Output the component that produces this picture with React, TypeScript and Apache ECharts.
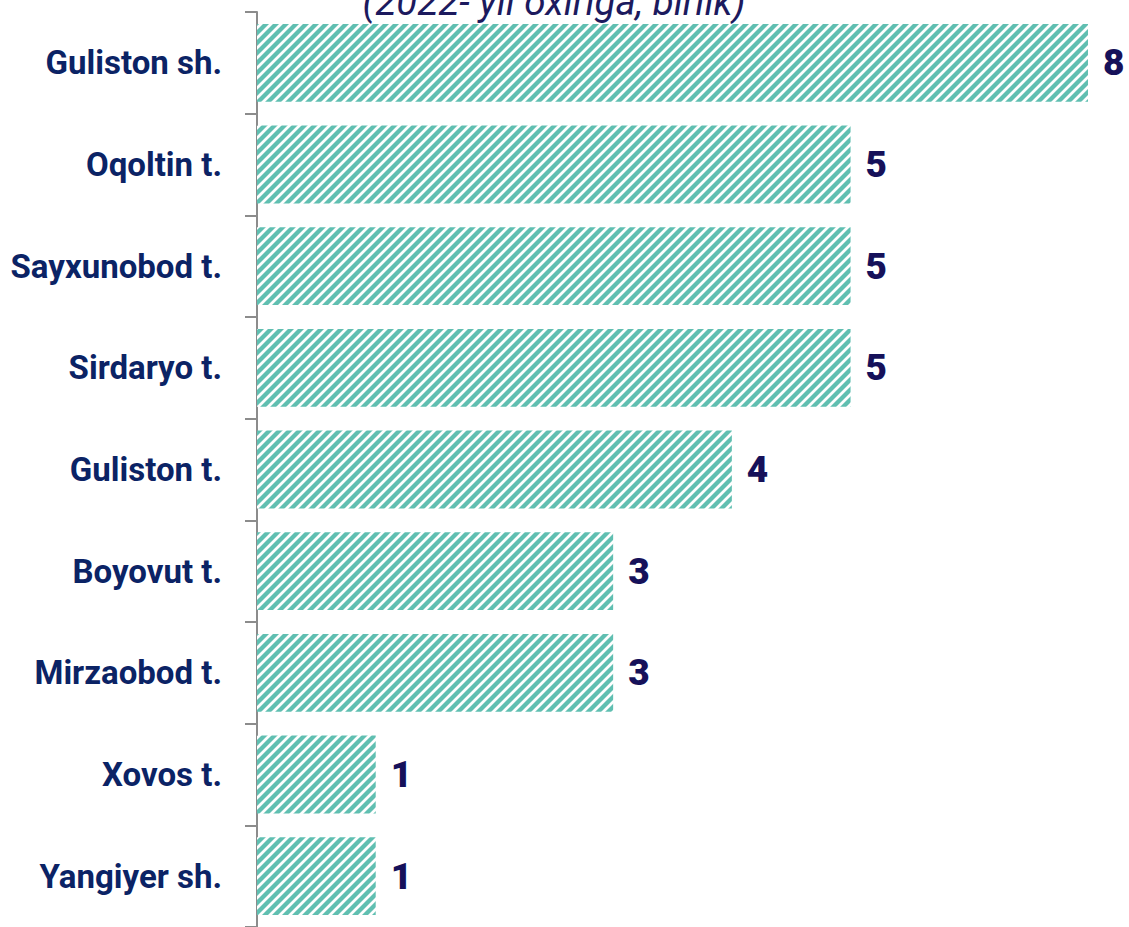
import React, { useEffect, useRef } from "react";
import * as echarts from "echarts";

const categories = [
  "Guliston sh.",
  "Oqoltin t.",
  "Sayxunobod t.",
  "Sirdaryo t.",
  "Guliston t.",
  "Boyovut t.",
  "Mirzaobod t.",
  "Xovos t.",
  "Yangiyer sh.",
];
const values = [8, 5, 5, 5, 4, 3, 3, 1, 1];
const subtitle = "(2022- yil oxiriga, birlik)";

function makeHatch(): HTMLCanvasElement {
  const s = 10;
  const c = document.createElement("canvas");
  c.width = s;
  c.height = s;
  const ctx = c.getContext("2d")!;
  ctx.fillStyle = "#ffffff";
  ctx.fillRect(0, 0, s, s);
  ctx.strokeStyle = "#60bfb1";
  ctx.lineWidth = 4.3;
  ctx.lineCap = "square";
  ctx.beginPath();
  ctx.moveTo(-1, s + 1);
  ctx.lineTo(s + 1, -1);
  ctx.moveTo(-3, 3);
  ctx.lineTo(3, -3);
  ctx.moveTo(s - 3, s + 3);
  ctx.lineTo(s + 3, s - 3);
  ctx.stroke();
  return c;
}

export default function App() {
  const ref = useRef<HTMLDivElement>(null);
  useEffect(() => {
    if (!ref.current) return;
    const chart = echarts.init(ref.current, null, { renderer: "svg" });
    const hatch = makeHatch();
    chart.setOption({
      animation: false,
      backgroundColor: "#ffffff",
      grid: { left: 257, right: 41, top: 12, bottom: -3, containLabel: false },
      xAxis: {
        type: "value",
        min: 0,
        max: 7,
        show: false,
      },
      yAxis: {
        type: "category",
        data: categories,
        inverse: true,
        axisLine: { show: true, lineStyle: { color: "#8c8c8c", width: 2 } },
        axisTick: { show: true, length: 12, lineStyle: { color: "#8c8c8c", width: 2 } },
        axisLabel: {
          margin: 35,
          fontFamily: "Roboto",
          fontWeight: "bold",
          fontSize: 33,
          color: "#0b2365",
        },
        splitLine: { show: false },
      },
      graphic: [
        {
          type: "text",
          x: 554,
          y: 1.5,
          style: {
            text: subtitle,
            fontFamily: "Roboto",
            fontStyle: "italic",
            fontSize: 38.5,
            fill: "#1c1a5e",
            textAlign: "center",
            textVerticalAlign: "middle",
          },
        },
      ],
      series: [
        {
          type: "bar",
          data: values,
          barCategoryGap: "23.5%",
          clip: true,
          itemStyle: {
            color: {
              image: hatch,
              repeat: "repeat",
              imageWidth: 10,
              imageHeight: 10,
            } as any,
          },
          label: {
            show: true,
            position: "right",
            distance: 15,
            fontFamily: "Roboto",
            fontWeight: 900,
            fontSize: 37,
            color: "#16115a",
          },
        },
      ],
    });
    return () => chart.dispose();
  }, []);
  return (
    <div
      ref={ref}
      style={{ position: "fixed", left: 0, top: 0, width: 1129, height: 927 }}
    />
  );
}
